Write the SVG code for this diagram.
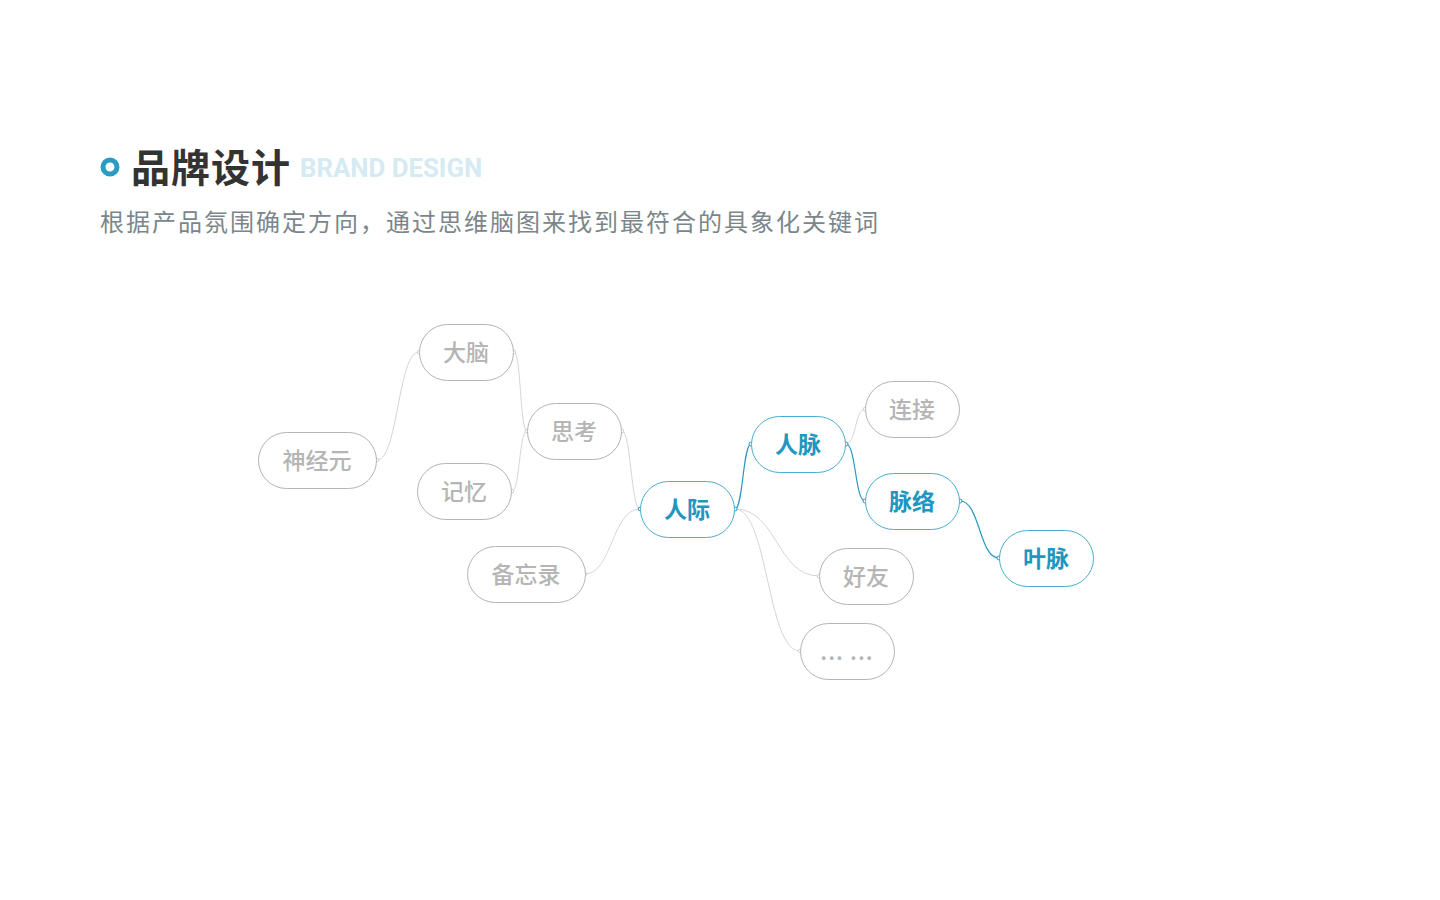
<svg xmlns="http://www.w3.org/2000/svg" width="1440" height="900" viewBox="0 0 1440 900">
<style>
.bg{fill:#ffffff}
.node rect{fill:#ffffff;stroke-width:1}
.g rect{stroke:#b4b4b4}
.b rect{stroke:#4aaed2}
.node text{font-family:"Noto Sans CJK SC","Noto Sans",sans-serif;font-size:23px;text-anchor:middle;dominant-baseline:central}
.g text{fill:#b5b5b5;font-weight:500}
.b text{fill:#2196bf;font-weight:bold}
.cg{fill:none;stroke:#d6d6d6;stroke-width:1}
.cb{fill:none;stroke:#2a98c0;stroke-width:1.2}
.dg{fill:#fff;stroke:#d0d0d0;stroke-width:1}
.db{fill:#fff;stroke:#2a98c0;stroke-width:1}
</style>
<rect class="bg" x="0" y="0" width="1440" height="900"/>
<g id="header">
<circle cx="110" cy="167" r="7" fill="none" stroke="#2a9bc5" stroke-width="5"/>
<text x="131" y="182" font-family="'Noto Sans CJK SC','Noto Sans',sans-serif" font-size="39" font-weight="bold" fill="#333333" letter-spacing="1">品牌设计</text>
<text x="300" y="177" font-family="Roboto,'Liberation Sans',sans-serif" font-size="25.8" font-weight="bold" fill="#d5eaf3">BRAND DESIGN</text>
<text x="100" y="231" font-family="'Noto Sans CJK SC','Noto Sans',sans-serif" font-size="24" fill="#7b868b" letter-spacing="2">根据产品氛围确定方向，通过思维脑图来找到最符合的具象化关键词</text>
</g>
<g id="connectors">
<path class="cg" d="M377,460 C398,460 398,352 419,352"/>
<path class="cg" d="M514,352 C521,352 520,431 527,431"/>
<path class="cg" d="M512,491 C520,491 519,431 527,431"/>
<path class="cg" d="M622,431 C631,431 631,509 640,509"/>
<path class="cg" d="M585,574 C612,574 612,509 640,509"/>
<path class="cg" d="M735,509 C777,509 777,576 819,576"/>
<path class="cg" d="M735,509 C768,509 767,651 800,651"/>
<path class="cg" d="M846,444 C856,444 855,409 865,409"/>
<path class="cb" d="M735,509 C743,509 743,444 751,444"/>
<path class="cb" d="M846,444 C856,444 855,501 865,501"/>
<path class="cb" d="M960,501 C980,501 979,558 999,558"/>
<circle class="dg" cx="377" cy="460" r="1.8"/>
<circle class="dg" cx="419" cy="352" r="1.8"/>
<circle class="dg" cx="514" cy="352" r="1.8"/>
<circle class="dg" cx="527" cy="431" r="1.8"/>
<circle class="dg" cx="512" cy="491" r="1.8"/>
<circle class="dg" cx="622" cy="431" r="1.8"/>
<circle class="dg" cx="585" cy="574" r="1.8"/>
<circle class="dg" cx="819" cy="576" r="1.8"/>
<circle class="dg" cx="800" cy="651" r="1.8"/>
<circle class="dg" cx="865" cy="409" r="1.8"/>
<circle class="db" cx="640" cy="509" r="1.8"/>
<circle class="db" cx="735" cy="509" r="2"/>
<circle class="db" cx="751" cy="444" r="2"/>
<circle class="db" cx="846" cy="444" r="2"/>
<circle class="db" cx="865" cy="501" r="2"/>
<circle class="db" cx="960" cy="501" r="2"/>
<circle class="db" cx="999" cy="558" r="2"/>
</g>
<g id="n-shenjingyuan" class="node g"><rect x="258.5" y="432.5" width="118" height="56" rx="28"/><text x="317" y="459">神经元</text></g>
<g id="n-danao" class="node g"><rect x="419.5" y="324.5" width="94" height="56" rx="28"/><text x="466" y="351">大脑</text></g>
<g id="n-sikao" class="node g"><rect x="527.5" y="403.5" width="94" height="56" rx="28"/><text x="574" y="430">思考</text></g>
<g id="n-jiyi" class="node g"><rect x="417.5" y="463.5" width="94" height="56" rx="28"/><text x="464" y="490">记忆</text></g>
<g id="n-beiwanglu" class="node g"><rect x="467.5" y="546.5" width="118" height="56" rx="28"/><text x="526" y="573">备忘录</text></g>
<g id="n-renji" class="node b"><rect x="640.5" y="481.5" width="94" height="56" rx="28"/><text x="687" y="508">人际</text></g>
<g id="n-renmai" class="node b"><rect x="751.5" y="416.5" width="94" height="56" rx="28"/><text x="798" y="443">人脉</text></g>
<g id="n-lianjie" class="node g"><rect x="865.5" y="381.5" width="94" height="56" rx="28"/><text x="912" y="408">连接</text></g>
<g id="n-mailuo" class="node b"><rect x="865.5" y="473.5" width="94" height="56" rx="28"/><text x="912" y="500">脉络</text></g>
<g id="n-yemai" class="node b"><rect x="999.5" y="530.5" width="94" height="56" rx="28"/><text x="1046" y="557">叶脉</text></g>
<g id="n-haoyou" class="node g"><rect x="819.5" y="548.5" width="94" height="56" rx="28"/><text x="866" y="575">好友</text></g>
<g id="n-more" class="node g"><rect x="800.5" y="623.5" width="94" height="56" rx="28"/><text x="847" y="650" letter-spacing="1">... ...</text></g>
</svg>
